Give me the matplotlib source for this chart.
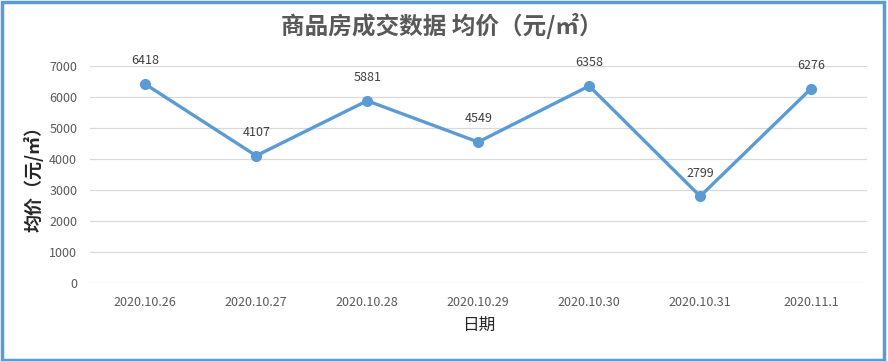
import matplotlib
matplotlib.use('Agg')
import matplotlib.pyplot as plt
from matplotlib.patches import Rectangle

plt.rcParams['font.family'] = ['Noto Sans CJK SC', 'DejaVu Sans']

dates = ['2020.10.26', '2020.10.27', '2020.10.28', '2020.10.29',
         '2020.10.30', '2020.10.31', '2020.11.1']
price = [6418, 4107, 5881, 4549, 6358, 2799, 6276]

blue = '#5B9BD5'
grey = '#595959'

fig = plt.figure(figsize=(8.88, 3.61), dpi=100)
ax = fig.add_axes([0.101, 0.216, 0.875, 0.601])

x = range(len(dates))
ax.plot(x, price, '-o', color=blue, lw=2.4, ms=7, zorder=3)
for i, v in zip(x, price):
    ax.annotate(str(v), (i, v), xytext=(0, 12), textcoords='offset points',
                ha='center', va='bottom', fontsize=9, color='#404040')

ax.set_xlim(-0.5, len(dates) - 0.5)
ax.set_ylim(0, 7000)
ax.set_yticks(range(0, 7001, 1000))
ax.set_xticks(list(x))
ax.set_xticklabels(dates)
ax.tick_params(length=0, labelsize=9, labelcolor=grey, pad=9)
ax.tick_params(axis='y', pad=9)
ax.grid(axis='y', color='#d9d9d9', lw=0.9)
ax.set_axisbelow(True)
for s in ax.spines.values():
    s.set_visible(False)

ax.set_xlabel('日期', fontsize=12, color='#262626', labelpad=6)
ax.set_ylabel('均价（元/㎡）', fontsize=13, color='#262626', labelpad=4,
              fontweight='bold')
fig.text(0.497, 0.928, '商品房成交数据 均价（元/㎡）', ha='center', va='center',
         fontsize=17, color=grey, fontweight='bold')

fig.patches.append(Rectangle((0.002, 0.004), 0.994, 0.99, transform=fig.transFigure,
                             fill=False, edgecolor=blue, lw=2.5))

fig.savefig('out.png', dpi=100)
